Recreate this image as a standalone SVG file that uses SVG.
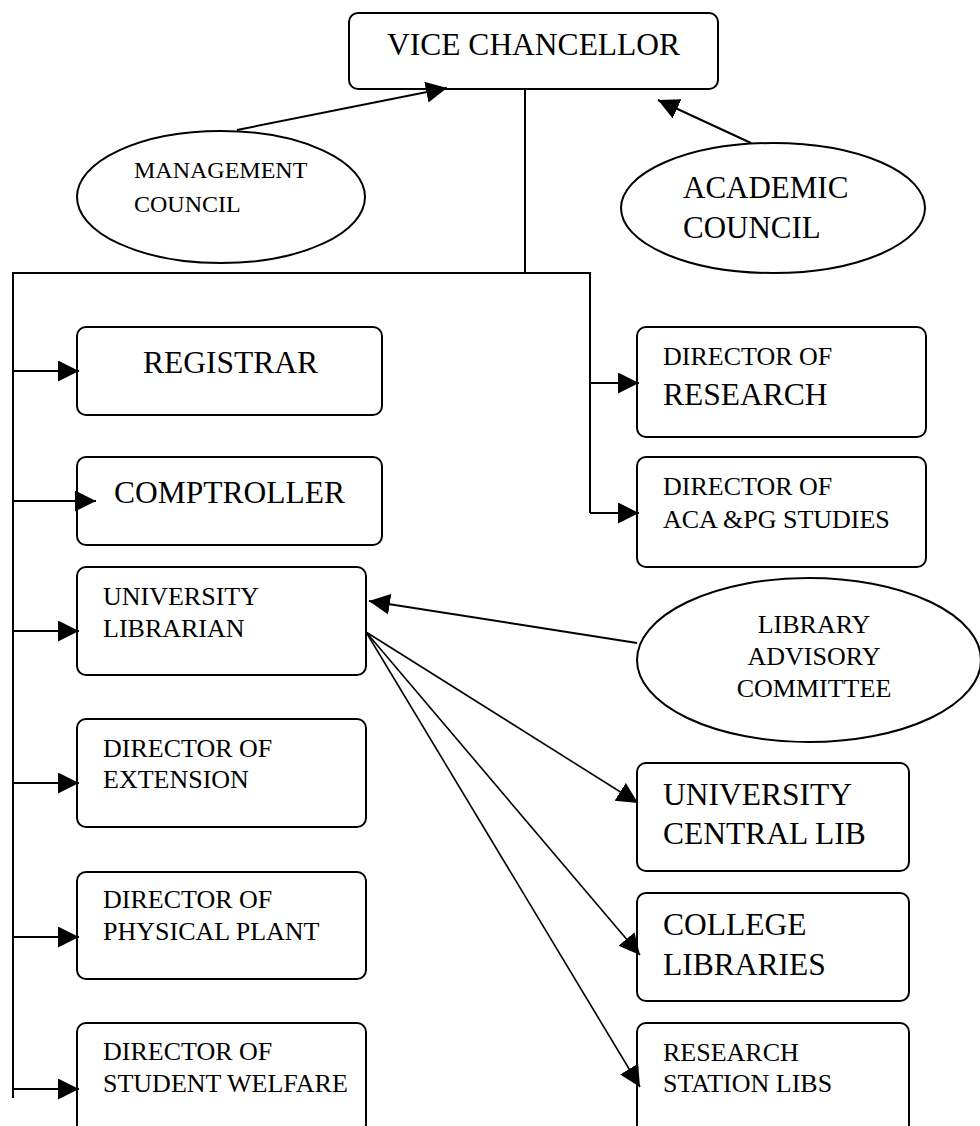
<svg xmlns="http://www.w3.org/2000/svg" width="980" height="1126" viewBox="0 0 980 1126">
  <style>
    .box { fill: #fff; stroke: #000; stroke-width: 2; }
    .oval { fill: #fff; stroke: #000; stroke-width: 2; }
    .wire { fill: none; stroke: #000; stroke-width: 2; }
    .thin { fill: none; stroke: #000; stroke-width: 1.6; }
    text { font-family: "Liberation Serif", "Times New Roman", serif; fill: #000; }
    .lg { font-size: 31.5px; }
    .sm { font-size: 26px; }
    .xs { font-size: 24px; }
  </style>
  <defs>
    <marker id="arrow" markerUnits="userSpaceOnUse" markerWidth="22" markerHeight="22" viewBox="0 0 22 22" refX="21" refY="10.5" orient="auto">
      <path d="M0,0 L21,10.5 L0,21 Z" fill="#000"/>
    </marker>
  </defs>
  <rect width="980" height="1126" fill="#fff"/>

  <g id="vice-chancellor">
    <rect class="box" x="349" y="13" width="369" height="76" rx="9"/>
    <text class="lg" x="387" y="55">VICE CHANCELLOR</text>
  </g>

  <g id="management-council">
    <ellipse class="oval" cx="221" cy="197" rx="144" ry="66"/>
    <text class="xs" x="134" y="178">MANAGEMENT</text>
    <text class="xs" x="134" y="212">COUNCIL</text>
  </g>

  <g id="academic-council">
    <ellipse class="oval" cx="773" cy="208" rx="152" ry="65"/>
    <text style="font-size:31px" x="683" y="198">ACADEMIC</text>
    <text style="font-size:31px" x="683" y="238">COUNCIL</text>
  </g>

  <g id="registrar">
    <rect class="box" x="77" y="327" width="305" height="88" rx="9"/>
    <text class="lg" x="143" y="373">REGISTRAR</text>
  </g>

  <g id="comptroller">
    <rect class="box" x="77" y="457" width="305" height="88" rx="9"/>
    <text class="lg" x="114" y="503">COMPTROLLER</text>
  </g>

  <g id="university-librarian">
    <rect class="box" x="77" y="567" width="289" height="108" rx="9"/>
    <text class="sm" x="103" y="605">UNIVERSITY</text>
    <text class="sm" x="103" y="637">LIBRARIAN</text>
  </g>

  <g id="director-extension">
    <rect class="box" x="77" y="719" width="289" height="108" rx="9"/>
    <text class="sm" x="103" y="757">DIRECTOR OF</text>
    <text class="sm" x="103" y="788">EXTENSION</text>
  </g>

  <g id="director-physical-plant">
    <rect class="box" x="77" y="872" width="289" height="107" rx="9"/>
    <text class="sm" x="103" y="908">DIRECTOR OF</text>
    <text class="sm" x="103" y="940">PHYSICAL PLANT</text>
  </g>

  <g id="director-student-welfare">
    <rect class="box" x="77" y="1023" width="289" height="120" rx="9"/>
    <text class="sm" x="103" y="1060">DIRECTOR OF</text>
    <text class="sm" x="103" y="1092">STUDENT WELFARE</text>
  </g>

  <g id="director-research">
    <rect class="box" x="637" y="327" width="289" height="110" rx="9"/>
    <text class="sm" x="663" y="365">DIRECTOR OF</text>
    <text class="lg" x="663" y="405">RESEARCH</text>
  </g>

  <g id="director-aca-pg">
    <rect class="box" x="637" y="457" width="289" height="110" rx="9"/>
    <text class="sm" x="663" y="495">DIRECTOR OF</text>
    <text class="sm" x="663" y="528">ACA &amp;PG STUDIES</text>
  </g>

  <g id="library-advisory-committee">
    <ellipse class="oval" cx="809" cy="660" rx="172" ry="82"/>
    <text class="sm" x="814" y="633" text-anchor="middle">LIBRARY</text>
    <text class="sm" x="814" y="665" text-anchor="middle">ADVISORY</text>
    <text class="sm" x="814" y="697" text-anchor="middle">COMMITTEE</text>
  </g>

  <g id="university-central-lib">
    <rect class="box" x="637" y="763" width="272" height="108" rx="9"/>
    <text class="lg" x="663" y="805">UNIVERSITY</text>
    <text class="lg" x="663" y="844">CENTRAL LIB</text>
  </g>

  <g id="college-libraries">
    <rect class="box" x="637" y="893" width="272" height="108" rx="9"/>
    <text class="lg" x="663" y="935">COLLEGE</text>
    <text class="lg" x="663" y="975">LIBRARIES</text>
  </g>

  <g id="research-station-libs">
    <rect class="box" x="637" y="1023" width="272" height="120" rx="9"/>
    <text class="sm" x="663" y="1061">RESEARCH</text>
    <text class="sm" x="663" y="1092">STATION LIBS</text>
  </g>

  <!-- connectors, drawn last so the comptroller arrowhead shows over its box -->
  <g id="connectors">
    <!-- trunk from the vice chancellor -->
    <polyline class="wire" points="525,89 525,273"/>
    <polyline class="wire" points="13,1098 13,273 590,273 590,513"/>
    <!-- left column branches -->
    <line class="wire" x1="13" y1="371" x2="79" y2="371" marker-end="url(#arrow)"/>
    <line class="wire" x1="13" y1="501" x2="96" y2="501" marker-end="url(#arrow)"/>
    <line class="wire" x1="13" y1="631" x2="79" y2="631" marker-end="url(#arrow)"/>
    <line class="wire" x1="13" y1="783" x2="79" y2="783" marker-end="url(#arrow)"/>
    <line class="wire" x1="13" y1="937" x2="79" y2="937" marker-end="url(#arrow)"/>
    <line class="wire" x1="13" y1="1089" x2="79" y2="1089" marker-end="url(#arrow)"/>
    <!-- right column branches -->
    <line class="wire" x1="590" y1="383" x2="639" y2="383" marker-end="url(#arrow)"/>
    <line class="wire" x1="590" y1="513" x2="639" y2="513" marker-end="url(#arrow)"/>
    <!-- councils to vice chancellor -->
    <line class="wire" x1="237" y1="130" x2="447" y2="88" marker-end="url(#arrow)"/>
    <line class="wire" x1="751" y1="143" x2="658" y2="100" marker-end="url(#arrow)"/>
    <!-- library advisory committee to librarian -->
    <line class="wire" x1="637" y1="643" x2="369" y2="601" marker-end="url(#arrow)"/>
    <!-- librarian to libraries -->
    <line class="thin" x1="366" y1="632" x2="638" y2="803" marker-end="url(#arrow)"/>
    <line class="thin" x1="366" y1="632" x2="640" y2="955" marker-end="url(#arrow)"/>
    <line class="thin" x1="366" y1="632" x2="640" y2="1087" marker-end="url(#arrow)"/>
  </g>
</svg>
